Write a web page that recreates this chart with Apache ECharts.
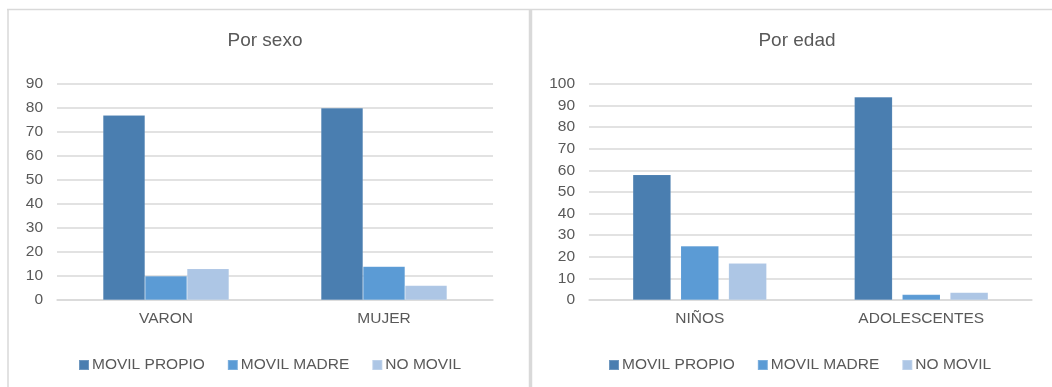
<!DOCTYPE html>
<html>
<head>
<meta charset="utf-8">
<script src="https://cdn.jsdelivr.net/npm/echarts@6/dist/echarts.min.js"></script>
<style>
  html, body { margin: 0; padding: 0; background: #fff; }
  #chart { width: 1052px; height: 387px; }
</style>
</head>
<body>
<div id="chart"></div>
<script>
// Por sexo
const sexCategories = ['VARON', 'MUJER'];
const sexPropio = [77, 80];
const sexMadre = [10, 14];
const sexNoMovil = [13, 6];

// Por edad
const ageCategories = ['NIÑOS', 'ADOLESCENTES'];
const agePropio = [58, 94];
const ageMadre = [25, 2.5];
const ageNoMovil = [17, 3.5];

const seriesNames = ['MOVIL PROPIO', 'MOVIL MADRE', 'NO MOVIL'];
const colors = ['#4a7eb0', '#5b9bd5', '#adc6e5'];

const FONT = "'Liberation Sans', Arial, sans-serif";
const TEXT = '#595959';
const GRID_LINE = '#d9d9d9';
const LABEL_SIZE = 15.5;

function valueAxis(gridIndex, max) {
  return {
    type: 'value', gridIndex, min: 0, max, interval: 10,
    axisLine: { show: false }, axisTick: { show: false },
    splitLine: { lineStyle: { color: GRID_LINE, width: 1.5 } },
    axisLabel: { color: TEXT, fontSize: LABEL_SIZE, fontFamily: FONT, margin: 14 }
  };
}
function categoryAxis(gridIndex, data) {
  return {
    type: 'category', gridIndex, data,
    axisLine: { lineStyle: { color: GRID_LINE, width: 1.5 } },
    axisTick: { show: false },
    axisLabel: { color: TEXT, fontSize: LABEL_SIZE, fontFamily: FONT, margin: 11 }
  };
}
function barSeries(name, idx, data, axisIndex, width, gap) {
  return {
    type: 'bar', name, data,
    xAxisIndex: axisIndex, yAxisIndex: axisIndex,
    barWidth: width, barGap: gap,
    itemStyle: { color: colors[idx], borderColor: 'rgba(255,255,255,0.2)', borderWidth: 0.5 },
    emphasis: { disabled: true }
  };
}
function legend(left) {
  return {
    data: seriesNames, left, top: 357, padding: 0, itemGap: 22, itemWidth: 10, itemHeight: 10,
    icon: 'rect', selectedMode: false,
    textStyle: { color: TEXT, fontSize: LABEL_SIZE, fontFamily: FONT, padding: [0, 0, 0, -2] }
  };
}
function title(text, left) {
  return {
    text, left, top: 31, textAlign: 'center', padding: 0,
    textStyle: { color: TEXT, fontSize: 19, fontWeight: 'normal', fontFamily: FONT }
  };
}

const chart = echarts.init(document.getElementById('chart'), null, { renderer: 'canvas' });
chart.setOption({
  animation: false,
  color: colors,
  title: [title('Por sexo', 265), title('Por edad', 797)],
  legend: [legend(78), legend(608)],
  grid: [
    { left: 57, right: 559, top: 84, bottom: 87 },
    { left: 589, right: 20, top: 84, bottom: 87 }
  ],
  xAxis: [categoryAxis(0, sexCategories), categoryAxis(1, ageCategories)],
  yAxis: [valueAxis(0, 90), valueAxis(1, 100)],
  series: [
    barSeries(seriesNames[0], 0, sexPropio, 0, 42, 0),
    barSeries(seriesNames[1], 1, sexMadre, 0, 42, 0),
    barSeries(seriesNames[2], 2, sexNoMovil, 0, 42, 0),
    barSeries(seriesNames[0], 0, agePropio, 1, 38, '26%'),
    barSeries(seriesNames[1], 1, ageMadre, 1, 38, '26%'),
    barSeries(seriesNames[2], 2, ageNoMovil, 1, 38, '26%')
  ],
  graphic: [
    // panel frames
    { type: 'line', shape: { x1: 7, y1: 9.5, x2: 1052, y2: 9.5 }, style: { stroke: GRID_LINE, lineWidth: 1.5 }, silent: true },
    { type: 'line', shape: { x1: 8, y1: 9, x2: 8, y2: 387 }, style: { stroke: GRID_LINE, lineWidth: 1.5 }, silent: true },
    { type: 'line', shape: { x1: 530.5, y1: 9, x2: 530.5, y2: 387 }, style: { stroke: GRID_LINE, lineWidth: 3.5 }, silent: true }
  ]
});
</script>
</body>
</html>
